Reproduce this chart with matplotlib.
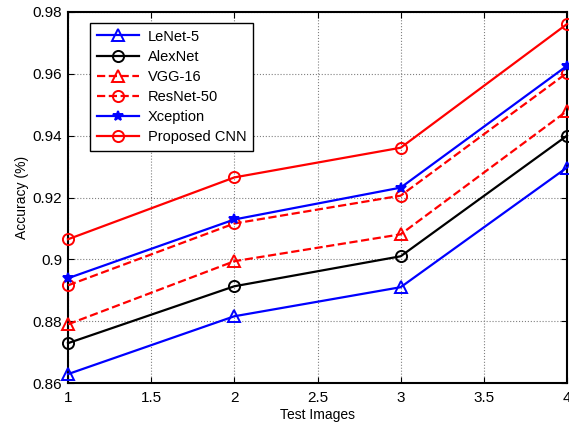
import matplotlib
matplotlib.use("Agg")
import matplotlib.pyplot as plt

plt.rcParams['font.family'] = ['Liberation Sans', 'DejaVu Sans']

test_images = [1, 2, 3, 4]
lenet5 = [0.8629, 0.8816, 0.8910, 0.9297]
alexnet = [0.8729, 0.8913, 0.9010, 0.9400]
vgg16 = [0.8790, 0.8994, 0.9081, 0.9480]
resnet50 = [0.8916, 0.9116, 0.9206, 0.9603]
xception = [0.8939, 0.9129, 0.9232, 0.9626]
proposed = [0.9065, 0.9265, 0.9361, 0.9761]

fig = plt.figure(figsize=(5.69, 4.28), dpi=100)
ax = fig.add_axes([0.1195, 0.105, 0.877, 0.867])

# series: values, color, linestyle, marker
series = [
    ("LeNet-5", lenet5, "blue", "-", "^"),
    ("AlexNet", alexnet, "black", "-", "o"),
    ("VGG-16", vgg16, "red", "--", "^"),
    ("ResNet-50", resnet50, "red", "--", "o"),
    ("Xception", xception, "blue", "-", "*"),
    ("Proposed CNN", proposed, "red", "-", "o"),
]
for name, vals, col, ls, mk in series:
    ax.plot(test_images, vals, color=col, linestyle=ls, marker=mk, lw=1.6,
            markersize=8 if mk != "*" else 7,
            markerfacecolor='none' if mk != "*" else col,
            markeredgewidth=1.4, label=name, clip_on=False, zorder=3)

ax.set_xlim(1, 4)
ax.set_ylim(0.86, 0.98)
ax.set_xticks([1, 1.5, 2, 2.5, 3, 3.5, 4])
ax.set_xticklabels(["1", "1.5", "2", "2.5", "3", "3.5", "4"])
ax.set_yticks([0.86, 0.88, 0.9, 0.92, 0.94, 0.96, 0.98])
ax.set_yticklabels(["0.86", "0.88", "0.9", "0.92", "0.94", "0.96", "0.98"])
ax.tick_params(direction='in', labelsize=11, length=4, top=True, right=True, pad=4)
ax.tick_params(axis='x', pad=6)
ax.grid(True, linestyle=':', color='gray', linewidth=0.8)
for sp in ax.spines.values():
    sp.set_linewidth(1.5)

ax.set_xlabel("Test Images", fontsize=10, labelpad=2)
ax.set_ylabel("Accuracy (%)", fontsize=10, labelpad=3)

leg = ax.legend(loc='upper left', bbox_to_anchor=(0.03, 0.99), fontsize=10.5,
                fancybox=False, framealpha=1, edgecolor='black',
                handlelength=2.9, handletextpad=0.6, labelspacing=0.42,
                borderpad=0.45)
leg.get_frame().set_linewidth(1.0)

fig.savefig("out.png", dpi=100)
